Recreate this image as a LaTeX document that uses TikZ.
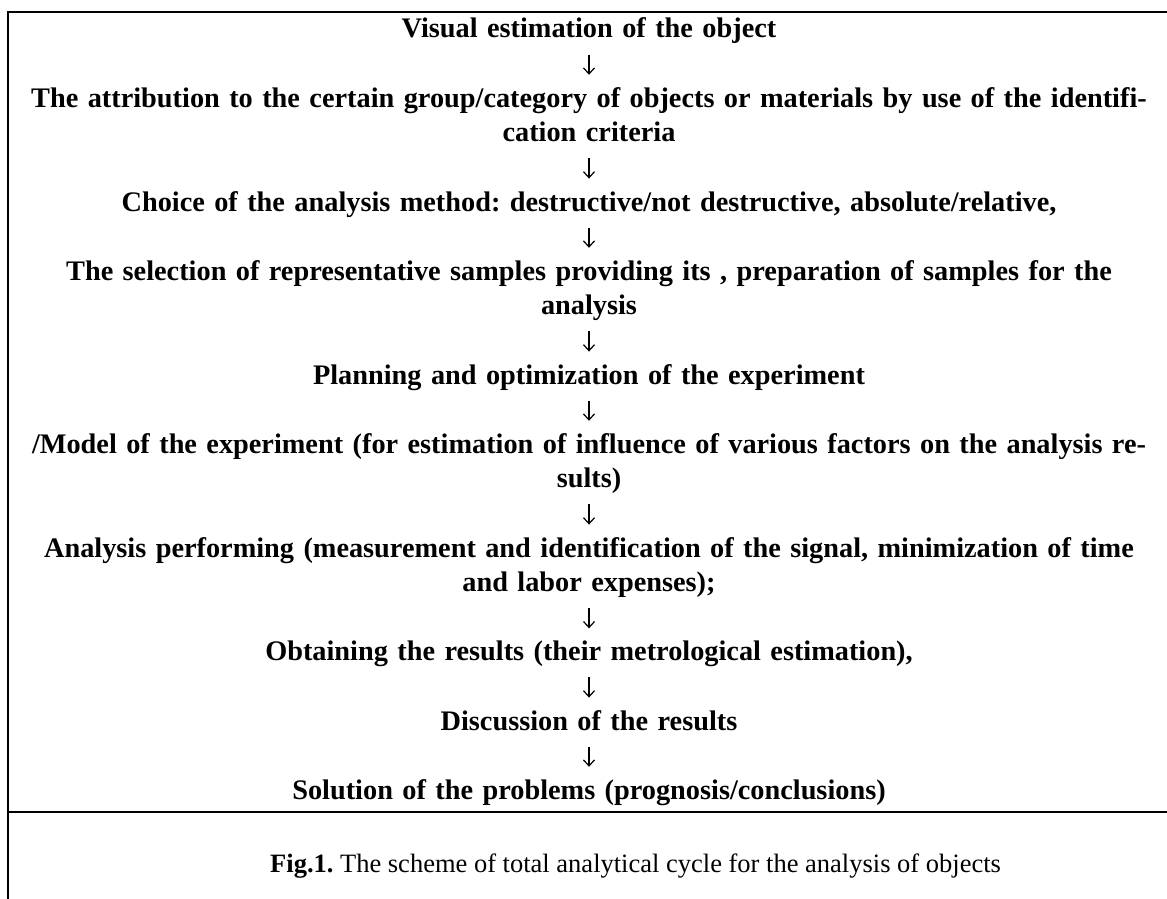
\documentclass[tikz,border=0pt]{standalone}
\usepackage{fontspec}
\setmainfont{Liberation Serif}
\usetikzlibrary{positioning,arrows.meta}
\frenchspacing

\begin{document}
\begin{tikzpicture}[x=1pt,y=1pt,
  stepnode/.style={anchor=base, inner sep=0pt, text width=1158pt, align=center,
    font=\bfseries\fontsize{28.3}{34.6}\selectfont,
    execute at begin node=\strut, execute at end node=\strut},
  flow/.style={-{Straight Barb[length=6pt,width=11pt]}, line width=1.2pt,
    shorten <=6pt, shorten >=8pt},
  frame/.style={line width=2.4pt}]

  \useasboundingbox (0,0) rectangle (1167,-899);

  \def\d{34.6}
  \def\top{-38}
  \def\cx{589}

  %frame
  \draw[frame] (8,-899) -- (8,-12) -- (1167,-12);
  \draw[frame] (8,-812) -- (1167,-812);

  %steps of the cycle
  \node[stepnode] (s1) at (\cx, \top-0*\d) {Visual estimation of the object};
  \node[stepnode] (s2) at (\cx, \top-2*\d) {The attribution to the certain group/category of objects or materials by use of the identifi-\\cation criteria};
  \node[stepnode] (s3) at (\cx, \top-5*\d) {Choice of the analysis method: destructive/not destructive, absolute/relative,};
  \node[stepnode] (s4) at (\cx, \top-7*\d) {The selection of representative samples providing its , preparation of samples for the\\analysis};
  \node[stepnode] (s5) at (\cx, \top-10*\d) {Planning and optimization of the experiment};
  \node[stepnode] (s6) at (\cx, \top-12*\d) {/Model of the experiment (for estimation of influence of various factors on the analysis re-\\sults)};
  \node[stepnode] (s7) at (\cx, \top-15*\d) {Analysis performing (measurement and identification of the signal, minimization of time\\and labor expenses);};
  \node[stepnode] (s8) at (\cx, \top-18*\d) {Obtaining the results (their metrological estimation),};
  \node[stepnode] (s9) at (\cx, \top-20*\d) {Discussion of the results};
  \node[stepnode] (s10) at (\cx, \top-22*\d) {Solution of the problems (prognosis/conclusions)};

  %arrows
  \foreach \a/\b in {s1/s2,s2/s3,s3/s4,s4/s5,s5/s6,s6/s7,s7/s8,s8/s9,s9/s10}{
    \draw[flow] (\a) -- (\b);
  }

  %caption
  \node[anchor=base west, inner sep=0pt, font=\fontsize{26.5}{30}\selectfont] (cap) at (270,-872)
    {\textbf{Fig.1.} The scheme of total analytical cycle for the analysis of objects};

\end{tikzpicture}
\end{document}
